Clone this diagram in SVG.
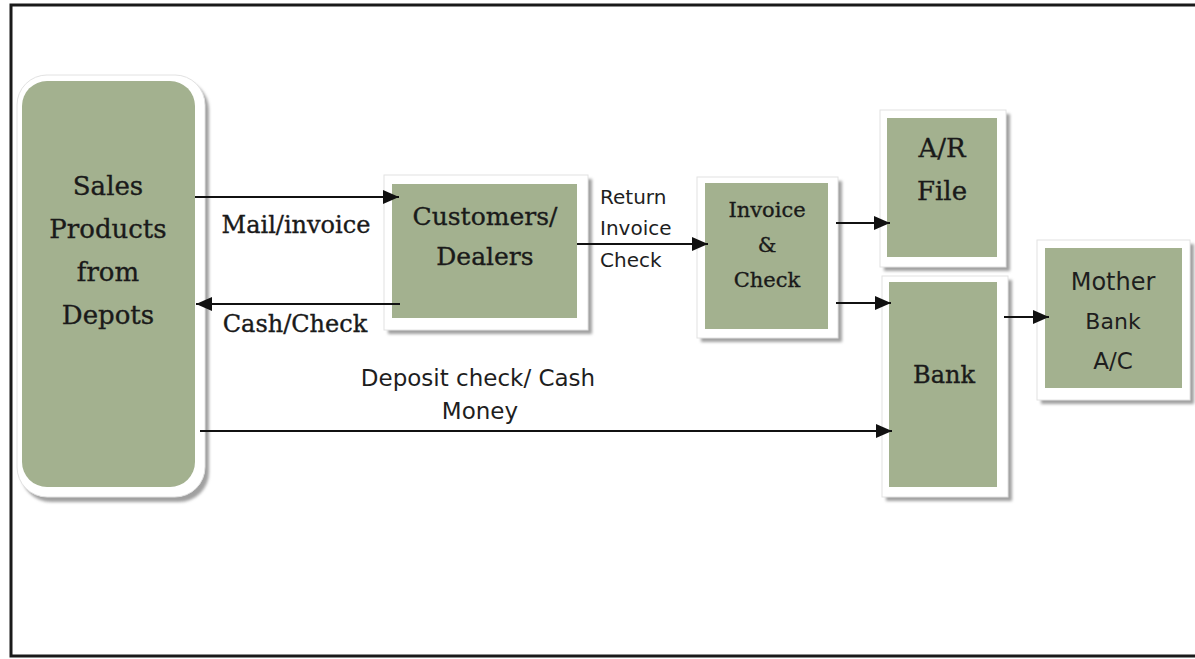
<svg xmlns="http://www.w3.org/2000/svg" width="1195" height="659" viewBox="0 0 1195 659">
<defs>
<style>
.sh{fill:#a0a0a0;filter:url(#blur)}
.frm{fill:#ffffff;stroke:#e2e2e2;stroke-width:1}
.grn{fill:#a3b18f}
.serif{font-family:"DejaVu Serif","Liberation Serif",serif;fill:#1a1a1a;stroke:#1a1a1a;stroke-width:0.35;text-anchor:middle}
.sans{font-family:"DejaVu Sans","Liberation Sans",sans-serif;fill:#1e1e1e;text-anchor:middle}
.sans.left{text-anchor:start}
.ln{stroke:#111;stroke-width:2;fill:none;marker-end:url(#ah)}
</style>
<filter id="blur" x="-10%" y="-10%" width="120%" height="120%"><feGaussianBlur stdDeviation="1.5"/></filter>
<marker id="ah" markerUnits="userSpaceOnUse" markerWidth="17" markerHeight="14" refX="16" refY="7" orient="auto"><path d="M0,0 L16,7 L0,14 Z" fill="#111"/></marker>
</defs>
<rect width="1195" height="659" fill="#ffffff"/>
<path d="M1195,5 L11,5 L11,656 L1195,656" fill="none" stroke="#1a1a1a" stroke-width="3"/>

<g id="sales">
<rect class="sh" x="21" y="80" width="188" height="422" rx="30"/>
<rect class="frm" x="17" y="75" width="188" height="422" rx="30"/>
<rect class="grn" x="22" y="81" width="173" height="406" rx="25"/>
<text class="serif" font-size="26" x="108" y="195">Sales</text>
<text class="serif" font-size="26" x="108" y="238">Products</text>
<text class="serif" font-size="26" x="108" y="281">from</text>
<text class="serif" font-size="26" x="108" y="324">Depots</text>
</g>

<g id="customers">
<rect class="sh" x="388" y="179" width="204" height="155"/>
<rect class="frm" x="384" y="175" width="204" height="155"/>
<rect class="grn" x="392" y="184" width="185" height="134"/>
<text class="serif" font-size="25" x="485" y="225">Customers/</text>
<text class="serif" font-size="25" x="485" y="265">Dealers</text>
</g>

<g id="invoice-check">
<rect class="sh" x="701" y="181" width="141" height="161"/>
<rect class="frm" x="697" y="177" width="141" height="161"/>
<rect class="grn" x="705" y="183" width="123" height="146"/>
<text class="serif" font-size="21" x="767" y="217">Invoice</text>
<text class="serif" font-size="21" x="767" y="252">&amp;</text>
<text class="serif" font-size="21" x="767" y="287">Check</text>
</g>

<g id="ar-file">
<rect class="sh" x="884" y="114" width="126" height="157"/>
<rect class="frm" x="880" y="110" width="126" height="157"/>
<rect class="grn" x="887" y="118" width="110" height="139"/>
<text class="serif" font-size="26" x="942" y="157">A/R</text>
<text class="serif" font-size="26" x="942" y="200">File</text>
</g>

<g id="bank">
<rect class="sh" x="886" y="280" width="126" height="221"/>
<rect class="frm" x="882" y="276" width="126" height="221"/>
<rect class="grn" x="889" y="282" width="108" height="205"/>
<text class="serif" font-size="24" x="944" y="383">Bank</text>
</g>

<g id="mother-bank">
<rect class="sh" x="1041" y="244" width="153" height="160"/>
<rect class="frm" x="1037" y="240" width="153" height="160"/>
<rect class="grn" x="1045" y="248" width="137" height="140"/>
<text class="sans" font-size="24" x="1113" y="290">Mother</text>
<text class="sans" font-size="22" x="1113" y="329">Bank</text>
<text class="sans" font-size="23" x="1113" y="369">A/C</text>
</g>

<g id="connectors">
<line class="ln" x1="195" y1="197" x2="399" y2="197" stroke-width="1.5"/>
<line class="ln" x1="400" y1="304" x2="196" y2="304"/>
<line class="ln" x1="577" y1="244" x2="708" y2="244"/>
<line class="ln" x1="836" y1="223" x2="890" y2="223"/>
<line class="ln" x1="836" y1="303" x2="891" y2="303"/>
<line class="ln" x1="1004" y1="317" x2="1049" y2="317"/>
<line class="ln" x1="200" y1="431" x2="892" y2="431"/>
<text class="serif" font-size="24" x="296" y="233">Mail/invoice</text>
<text class="serif" font-size="24" x="295" y="332">Cash/Check</text>
<text class="sans left" font-size="20" x="600" y="204">Return</text>
<text class="sans left" font-size="20" x="600" y="235">Invoice</text>
<text class="sans left" font-size="20" x="600" y="267">Check</text>
<text class="sans" font-size="23" x="478" y="386">Deposit check/ Cash</text>
<text class="sans" font-size="23" x="480" y="419">Money</text>
</g>
</svg>
